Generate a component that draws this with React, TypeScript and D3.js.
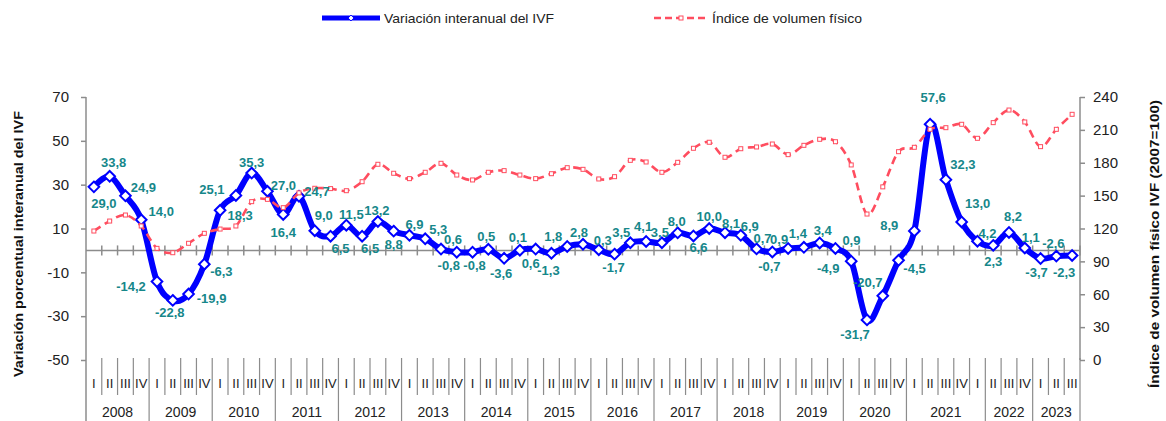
import React, { useRef, useEffect } from 'react';
import * as d3 from 'd3';

// Variación interanual del IVF (%), 2008-I .. 2023-III
const ivfChange = [
  29.0, 33.8, 24.9, 14.0,
  -14.2, -22.8, -19.9, -6.3,
  18.3, 25.1, 35.3, 27.0,
  16.4, 24.7, 9.0, 6.5,
  11.5, 6.5, 13.2, 8.8,
  6.9, 5.3, 0.6, -0.8,
  -0.8, 0.5, -3.6, 0.1,
  0.6, -1.3, 1.8, 2.8,
  0.3, -1.7, 3.5, 4.1,
  3.5, 8.0, 6.6, 10.0,
  8.1, 6.9, 0.7, -0.7,
  0.9, 1.4, 3.4, 0.9,
  -4.9, -31.7, -20.7, -4.5,
  8.9, 57.6, 32.3, 13.0,
  4.2, 2.3, 8.2, 1.1,
  -3.7, -2.6, -2.3,
];

// Índice de volumen físico (2007=100)
const ivfIndex = [
  117.7, 126.8, 132.3, 122.3,
  101.9, 97.9, 106.5, 115.6,
  119.5, 122.3, 144.5, 146.6,
  139.0, 152.5, 156.7, 156.4,
  154.5, 162.7, 178.6, 170.4,
  165.5, 171.3, 179.5, 168.8,
  164.3, 171.3, 172.8, 168.8,
  165.5, 170.0, 175.5, 174.0,
  165.2, 167.3, 182.2, 180.7,
  171.3, 180.4, 193.2, 198.7,
  185.0, 192.8, 194.4, 197.1,
  187.4, 195.9, 201.4, 199.2,
  178.0, 133.2, 158.0, 190.1,
  194.1, 210.5, 212.0, 215.1,
  202.3, 216.6, 228.1, 217.2,
  194.7, 210.5, 224.2,
];

// category axis: years with the quarter labels shown under each
const years = ['2008', '2009', '2010', '2011', '2012', '2013', '2014', '2015', '2016', '2017', '2018', '2019', '2020', '2021', '2022', '2023'];
const yearQuarters = [
  ['I', 'II', 'III', 'IV'], ['I', 'II', 'III', 'IV'], ['I', 'II', 'III', 'IV'], ['I', 'II', 'III', 'IV'],
  ['I', 'II', 'III', 'IV'], ['I', 'II', 'III', 'IV'], ['I', 'II', 'III', 'IV'], ['I', 'II', 'III', 'IV'],
  ['I', 'II', 'III', 'IV'], ['I', 'II', 'III', 'IV'], ['I', 'II', 'III', 'IV'], ['I', 'II', 'III', 'IV'],
  ['I', 'II', 'III', 'IV'], ['I', 'II', 'III', 'IV', 'I'], ['II', 'III', 'IV'], ['I', 'II', 'III'],
];

const leftTicks = [70, 50, 30, 10, -10, -30, -50];
const rightTicks = [0, 30, 60, 90, 120, 150, 180, 210, 240];

// where each data label sits relative to its point (px)
const labelOffsets = [
  [10, 17], [4, -14], [18, -8], [20, -8],
  [-26, 5], [-3, 12], [23, 4], [17, 7],
  [20, 5], [-24, -6], [0, -11], [16, -6],
  [0, 18], [18, -5], [9, -15], [10, 12],
  [5, -11], [8, 12], [-1, -11], [0, 13],
  [5, -11], [13, -9], [12, -10], [-8, 13],
  [2, 13], [-2, -13], [-3, 15], [-2, -13],
  [-5, 14], [-3, 17], [-14, -10], [-4, -12],
  [4, -9], [-1, 13], [-9, -10], [-3, -15],
  [-2, -10], [-1, -11], [5, 12], [0, -12],
  [6, -9], [9, -9], [6, -10], [-3, 15],
  [-9, -9], [-6, -14], [3, -12], [16, -8],
  [-23, 7], [-12, 15], [-15, -13], [16, 8],
  [-25, -5], [3, -27], [17, -15], [16, -18],
  [10, -8], [0, 16], [4, -16], [6, -11],
  [-4, 14], [-3, -13], [-8, 17],
];

const W = 1166;
const H = 421;
const margin = { top: 97, right: 86, bottom: 61, left: 86 };
const FONT = '"Liberation Sans", Arial, sans-serif';
const BLUE = '#0000ff';
const RED = '#ff4d5f';
const TEAL = '#16878a';
const AXIS = '#8c8c8c';

const fmt = (v: number) => d3.format('.1f')(v).replace('.', ',').replace('−', '-');

const Chart = () => {
  const ref = useRef<SVGSVGElement | null>(null);

  useEffect(() => {
    if (!ref.current) return;
    const svg = d3.select(ref.current);
    svg.selectAll('*').remove();

    const n = ivfChange.length;
    const x = d3.scaleLinear().domain([0, n]).range([margin.left, W - margin.right]);
    const yL = d3.scaleLinear().domain([-50, 70]).range([H - margin.bottom, margin.top]);
    const yR = d3.scaleLinear().domain([0, 240]).range([H - margin.bottom, margin.top]);
    const cx = (i: number) => x(i + 0.5);
    const y0 = yL(0);

    // left axis
    const gl = svg.append('g')
      .attr('transform', `translate(${margin.left},0)`)
      .call(d3.axisLeft(yL).tickValues(leftTicks).tickSize(5).tickPadding(12).tickFormat(d => String(d)));
    gl.selectAll('path,line').attr('stroke', AXIS).attr('stroke-width', 1.5);
    gl.selectAll('text').attr('font-family', FONT).attr('font-size', 15).attr('fill', '#222');

    // right axis
    const gr = svg.append('g')
      .attr('transform', `translate(${W - margin.right},0)`)
      .call(d3.axisRight(yR).tickValues(rightTicks).tickSize(5).tickPadding(8));
    gr.selectAll('path,line').attr('stroke', AXIS).attr('stroke-width', 1.5);
    gr.selectAll('text').attr('font-family', FONT).attr('font-size', 15).attr('fill', '#222');
    svg.selectAll('.domain').attr('d', null);
    svg.append('line')
      .attr('x1', margin.left).attr('x2', margin.left)
      .attr('y1', margin.top).attr('y2', H)
      .attr('stroke', AXIS).attr('stroke-width', 1.5);
    svg.append('line')
      .attr('x1', W - margin.right).attr('x2', W - margin.right)
      .attr('y1', margin.top).attr('y2', H - margin.bottom)
      .attr('stroke', AXIS).attr('stroke-width', 1.5);

    // category axis line at 0 with crossing ticks
    svg.append('line')
      .attr('x1', margin.left).attr('x2', W - margin.right)
      .attr('y1', y0).attr('y2', y0)
      .attr('stroke', AXIS).attr('stroke-width', 1.5);
    svg.append('g').selectAll('line')
      .data(d3.range(1, n + 1))
      .enter().append('line')
      .attr('x1', d => x(d)).attr('x2', d => x(d))
      .attr('y1', y0 - 5).attr('y2', y0 + 5)
      .attr('stroke', AXIS).attr('stroke-width', 1.5);

    // bottom category labels
    const top = H - margin.bottom - 2;
    const bottom = svg.append('g');
    let k = 0;
    years.forEach((yr, yi) => {
      const qs = yearQuarters[yi];
      const start = k;
      qs.forEach((q, qi) => {
        const i = start + qi;
        bottom.append('text')
          .attr('x', cx(i)).attr('y', 383)
          .attr('text-anchor', 'middle').attr('dominant-baseline', 'central')
          .attr('font-family', FONT).attr('font-size', 13).attr('fill', '#222')
          .text(q);
        if (qi < qs.length - 1) {
          bottom.append('line')
            .attr('x1', x(i + 1)).attr('x2', x(i + 1))
            .attr('y1', top).attr('y2', 395)
            .attr('stroke', AXIS).attr('stroke-width', 1.2);
        }
      });
      k += qs.length;
      bottom.append('line')
        .attr('x1', x(k)).attr('x2', x(k))
        .attr('y1', top).attr('y2', H)
        .attr('stroke', AXIS).attr('stroke-width', 1.2);
      bottom.append('text')
        .attr('x', (x(start) + x(k)) / 2).attr('y', 412)
        .attr('text-anchor', 'middle').attr('dominant-baseline', 'central')
        .attr('font-family', FONT).attr('font-size', 14).attr('fill', '#222')
        .text(yr);
    });

    // blue series
    const lineL = d3.line<number>()
      .x((_, i) => cx(i))
      .y(d => yL(d))
      .curve(d3.curveCardinal.tension(0));
    svg.append('path')
      .attr('d', lineL(ivfChange))
      .attr('fill', 'none').attr('stroke', BLUE).attr('stroke-width', 6)
      .attr('stroke-linejoin', 'round');
    const diamond = d3.symbol().type(d3.symbolDiamond2).size(72);
    svg.append('g').selectAll('path')
      .data(ivfChange)
      .enter().append('path')
      .attr('d', diamond)
      .attr('transform', (d, i) => `translate(${cx(i)},${yL(d)})`)
      .attr('fill', '#fff').attr('stroke', BLUE).attr('stroke-width', 2);

    // red series
    const lineR = d3.line<number>()
      .x((_, i) => cx(i))
      .y(d => yR(d))
      .curve(d3.curveCardinal.tension(0));
    svg.append('path')
      .attr('d', lineR(ivfIndex))
      .attr('fill', 'none').attr('stroke', RED).attr('stroke-width', 2.6)
      .attr('stroke-dasharray', '8,5');
    svg.append('g').selectAll('rect')
      .data(ivfIndex)
      .enter().append('rect')
      .attr('x', (_, i) => cx(i) - 2).attr('y', d => yR(d) - 2)
      .attr('width', 4).attr('height', 4)
      .attr('fill', '#fff').attr('stroke', RED).attr('stroke-width', 1);

    // data labels
    svg.append('g').selectAll('text')
      .data(ivfChange)
      .enter().append('text')
      .attr('x', (_, i) => cx(i) + labelOffsets[i][0])
      .attr('y', (d, i) => yL(d) + labelOffsets[i][1])
      .attr('text-anchor', 'middle').attr('dominant-baseline', 'central')
      .attr('font-family', FONT).attr('font-weight', 'bold').attr('font-size', 13)
      .attr('fill', TEAL)
      .text(d => fmt(d));

    // axis titles
    svg.append('text')
      .attr('transform', 'translate(18,244) rotate(-90)')
      .attr('text-anchor', 'middle').attr('dominant-baseline', 'central')
      .attr('font-family', FONT).attr('font-weight', 'bold').attr('font-size', 13.5)
      .attr('textLength', 266).attr('lengthAdjust', 'spacingAndGlyphs')
      .attr('fill', '#111')
      .text('Variación porcentual interanual del IVF');
    svg.append('text')
      .attr('transform', 'translate(1154,244) rotate(-90)')
      .attr('text-anchor', 'middle').attr('dominant-baseline', 'central')
      .attr('font-family', FONT).attr('font-weight', 'bold').attr('font-size', 13.5)
      .attr('textLength', 288).attr('lengthAdjust', 'spacingAndGlyphs')
      .attr('fill', '#111')
      .text('Índice de volumen físico IVF (2007=100)');

    // legend
    const lg = svg.append('g');
    lg.append('line')
      .attr('x1', 322).attr('x2', 380).attr('y1', 18).attr('y2', 18)
      .attr('stroke', BLUE).attr('stroke-width', 5);
    lg.append('path')
      .attr('d', d3.symbol().type(d3.symbolDiamond2).size(22)())
      .attr('transform', 'translate(351,18)')
      .attr('fill', '#fff').attr('stroke', BLUE).attr('stroke-width', 1);
    lg.append('text')
      .attr('x', 384).attr('y', 18).attr('dominant-baseline', 'central')
      .attr('font-family', FONT).attr('font-size', 13).attr('fill', '#222')
      .attr('textLength', 170).attr('lengthAdjust', 'spacingAndGlyphs')
      .text('Variación interanual del IVF');
    lg.append('line')
      .attr('x1', 654).attr('x2', 708).attr('y1', 18).attr('y2', 18)
      .attr('stroke', RED).attr('stroke-width', 2.6).attr('stroke-dasharray', '7,4');
    lg.append('rect')
      .attr('x', 679).attr('y', 16).attr('width', 4).attr('height', 4)
      .attr('fill', '#fff').attr('stroke', RED).attr('stroke-width', 1);
    lg.append('text')
      .attr('x', 712).attr('y', 18).attr('dominant-baseline', 'central')
      .attr('font-family', FONT).attr('font-size', 13).attr('fill', '#222')
      .attr('textLength', 150).attr('lengthAdjust', 'spacingAndGlyphs')
      .text('Índice de volumen físico');
  }, []);

  return (
    <svg ref={ref} width={W} height={H} style={{ position: 'absolute', left: 0, top: 0, background: '#fff' }}></svg>
  );
};

export default function App() {
  return <Chart />;
}
